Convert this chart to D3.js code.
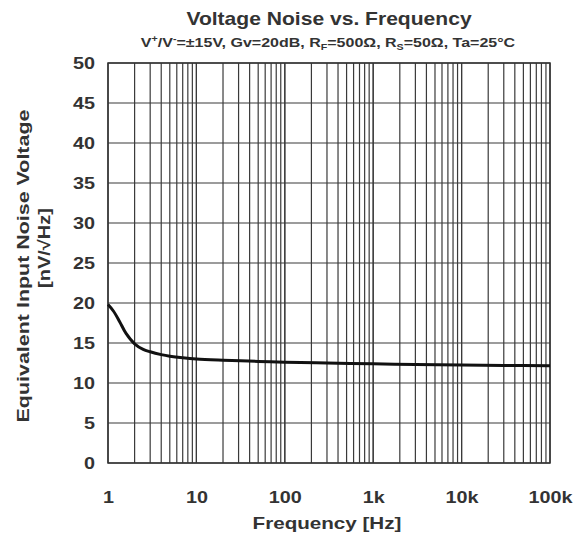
<!DOCTYPE html>
<html>
<head>
<meta charset="utf-8">
<script src="https://cdn.jsdelivr.net/npm/d3@7"></script>
<style>
  body { margin: 0; background: #fff; }
  text { font-family: "Liberation Sans", Arial, sans-serif; font-weight: bold; fill: #333; }
</style>
</head>
<body>
<div class="chart"></div>
<script>
// Voltage noise vs frequency
var freq  = [1, 1.15, 1.35, 1.6, 2, 2.5, 3, 4, 5, 7, 10, 20, 50, 100, 300, 1000, 3000, 10000, 30000, 100000];
var noise = [19.8, 19.0, 17.7, 16.2, 14.9, 14.2, 13.9, 13.55, 13.35, 13.15, 13.0, 12.85, 12.7, 12.6, 12.5, 12.4, 12.3, 12.25, 12.2, 12.15];
var yTicks = [0, 5, 10, 15, 20, 25, 30, 35, 40, 45, 50];
var xTicks = [1, 10, 100, 1000, 10000, 100000];
var xTickLabels = ["1", "10", "100", "1k", "10k", "100k"];

var svgWidth = 574, svgHeight = 540;
var margin = { top: 63, right: 24, bottom: 77, left: 108 };
var width = svgWidth - margin.left - margin.right;
var height = svgHeight - margin.top - margin.bottom;

var svg = d3.select(".chart").append("svg")
    .attr("width", svgWidth)
    .attr("height", svgHeight);
var chart = svg.append("g")
    .attr("transform", "translate(" + margin.left + "," + margin.top + ")");

var x = d3.scaleLog().domain([1, 100000]).range([0, width]);
var y = d3.scaleLinear().domain([0, 50]).range([height, 0]);

// minor + major vertical grid
var gridX = [];
for (var d = 1; d < 100000; d *= 10) {
    for (var k = 1; k <= 10; k++) gridX.push(d * k);
}
chart.selectAll(".vgrid")
    .data(gridX)
    .enter().append("line")
    .attr("class", "vgrid")
    .attr("x1", function(v) { return x(v); })
    .attr("x2", function(v) { return x(v); })
    .attr("y1", 0).attr("y2", height)
    .attr("stroke", "#3a3a3a").attr("stroke-width", 1.2);

chart.selectAll(".hgrid")
    .data(yTicks)
    .enter().append("line")
    .attr("class", "hgrid")
    .attr("x1", 0).attr("x2", width)
    .attr("y1", function(v) { return y(v); })
    .attr("y2", function(v) { return y(v); })
    .attr("stroke", "#3a3a3a").attr("stroke-width", 1.2);

chart.append("rect")
    .attr("width", width).attr("height", height)
    .attr("fill", "none").attr("stroke", "#333").attr("stroke-width", 1.5);

// axes (labels are a bit wide in the original, so stretch them horizontally)
var leftAxis = d3.axisLeft(y).tickValues(yTicks).tickSize(0).tickPadding(0);
var bottomAxis = d3.axisBottom(x).tickValues(xTicks).tickSize(0).tickPadding(0)
    .tickFormat(function(v, i) { return xTickLabels[i]; });

var gy = chart.append("g").call(leftAxis);
gy.select(".domain").remove();
gy.selectAll("text")
    .style("font-size", "16.5px").style("font-family", "Liberation Sans, Arial, sans-serif")
    .attr("fill", "#333").attr("x", 0).attr("dy", "0.36em")
    .attr("transform", "translate(-13,0) scale(1.2,1)");

var gx = chart.append("g").attr("transform", "translate(0," + height + ")").call(bottomAxis);
gx.select(".domain").remove();
gx.selectAll("text")
    .style("font-size", "16.5px").style("font-family", "Liberation Sans, Arial, sans-serif")
    .attr("fill", "#333").attr("y", 0).attr("dy", 0)
    .attr("transform", "translate(0,40) scale(1.2,1)");

// curve
var line = d3.line()
    .x(function(d, i) { return x(freq[i]); })
    .y(function(d) { return y(d); })
    .curve(d3.curveCatmullRom.alpha(0.5));
chart.append("path")
    .datum(noise)
    .attr("d", line)
    .attr("fill", "none")
    .attr("stroke", "#111")
    .attr("stroke-width", 3)
    .attr("stroke-linejoin", "round");

// put a text at (cx, cy), optionally rotated, stretched to a target width
function fit(t, cx, cy, w, rot) {
    var bw = t.node().getBBox().width;
    var sx = w / bw;
    t.attr("transform", "translate(" + cx + "," + cy + ")" + (rot ? " rotate(" + rot + ")" : "") + " scale(" + sx + ",1)");
}

var title = svg.append("text")
    .attr("text-anchor", "middle")
    .style("font-size", "19px")
    .text("Voltage Noise vs. Frequency");
fit(title, 329, 25, 286);

var sub = svg.append("text")
    .attr("text-anchor", "middle")
    .style("font-size", "13.5px");
sub.append("tspan").text("V");
sub.append("tspan").attr("dy", -5).style("font-size", "9px").text("+");
sub.append("tspan").attr("dy", 5).text("/V");
sub.append("tspan").attr("dy", -5).style("font-size", "9px").text("-");
sub.append("tspan").attr("dy", 5).text("=±15V, Gv=20dB, R");
sub.append("tspan").attr("dy", 3).style("font-size", "9px").text("F");
sub.append("tspan").attr("dy", -3).text("=500Ω, R");
sub.append("tspan").attr("dy", 3).style("font-size", "9px").text("S");
sub.append("tspan").attr("dy", -3).text("=50Ω,  Ta=25°C");
fit(sub, 328, 47, 375);

var xt = svg.append("text")
    .attr("text-anchor", "middle")
    .style("font-size", "16.5px")
    .text("Frequency [Hz]");
fit(xt, 327, 529, 149);

var yt = svg.append("text")
    .attr("text-anchor", "middle")
    .style("font-size", "16.5px")
    .text("Equivalent Input Noise Voltage");
fit(yt, 29, 266, 313, -90);

var yt2 = svg.append("text")
    .attr("text-anchor", "middle")
    .style("font-size", "16.5px")
    .text("[nV/√Hz]");
fit(yt2, 50, 248, 80, -90);
</script>
</body>
</html>
